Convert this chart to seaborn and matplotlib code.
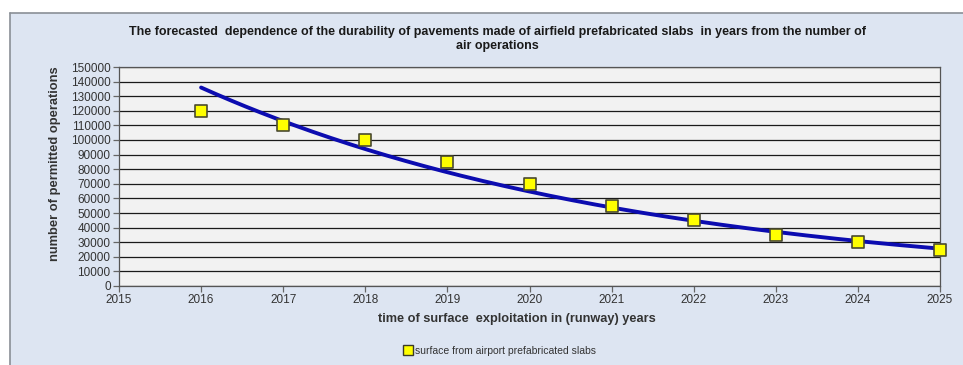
import numpy as np
import pandas as pd
import matplotlib
matplotlib.use("Agg")
import matplotlib.pyplot as plt
from matplotlib.patches import Rectangle
from matplotlib.lines import Line2D
import seaborn as sns

# Observed durability data
years = [2016, 2017, 2018, 2019, 2020, 2021, 2022, 2023, 2024, 2025]
operations = [120000, 110000, 100000, 85000, 70000, 55000, 45000, 35000, 30000, 25000]
series_name = "surface from airport prefabricated slabs"
x_ticks = list(range(2015, 2026))
y_ticks = list(range(0, 150001, 10000))

sns.set_theme(style="white")
plt.rcParams["font.family"] = ["Liberation Sans", "DejaVu Sans"]

df = pd.DataFrame({"year": years, "ops": operations})

# Exponential trend line fitted to the observations
coef = np.polyfit(df["year"] - years[0], np.log(df["ops"]), 1)
trend_x = np.linspace(years[0], years[-1], 200)
trend = pd.DataFrame({"year": trend_x,
                      "ops": np.exp(np.polyval(coef, trend_x - years[0]))})

W, H = 963, 365
fig = plt.figure(figsize=(W / 100, H / 100), dpi=100)
fig.patch.set_facecolor("white")

# Chart area panel
bg = "#dde5f2"
fig.patches.append(Rectangle((10 / W, 0), 1, (H - 13) / H, transform=fig.transFigure,
                             facecolor=bg, edgecolor="none", zorder=-2))
fig.lines.append(Line2D([10 / W, 1], [(H - 13) / H] * 2, transform=fig.transFigure,
                        color="#8a8f96", lw=1.2, zorder=-1))
fig.lines.append(Line2D([10 / W] * 2, [0, (H - 13) / H], transform=fig.transFigure,
                        color="#8a8f96", lw=1.2, zorder=-1))

ax = fig.add_axes([119 / W, (H - 286) / H, (940 - 119) / W, (286 - 67) / H])
ax.set_zorder(1)
ax.set_facecolor("#f2f2f2")

sns.lineplot(data=trend, x="year", y="ops", ax=ax, color="#0c0cb0", lw=2.8,
             zorder=3, legend=False)
sns.scatterplot(data=df, x="year", y="ops", ax=ax, marker="s", s=72,
                color="#ffff00", edgecolor="#4a4a30", linewidth=1.2, zorder=4,
                clip_on=False, label=series_name, legend=False)

ax.set_xlim(2015, 2025)
ax.set_ylim(0, 150000)
ax.set_xticks(x_ticks)
ax.set_yticks(y_ticks)
ax.set_xticklabels([str(t) for t in x_ticks])
ax.set_yticklabels([str(t) for t in y_ticks])
ax.yaxis.grid(True, color="#1a1a1a", lw=0.9)
ax.set_axisbelow(True)
ax.tick_params(axis="both", labelsize=8.5, labelcolor="#333333", length=4,
               width=0.9, color="#666666", direction="out", pad=2,
               bottom=True, left=True)
for s in ax.spines.values():
    s.set_color("#555555")
    s.set_linewidth(0.9)

ax.set_xlabel("time of surface  exploitation in (runway) years", fontsize=9.2,
              fontweight="bold", color="#333333")
ax.set_ylabel("number of permitted operations", fontsize=9.3, fontweight="bold",
              color="#333333")
ax.xaxis.set_label_coords(0.485, -0.122)
ax.yaxis.set_label_coords(-0.071, 0.56)

fig.text(497 / W, 1 - 39 / H,
         "The forecasted  dependence of the durability of pavements made of airfield prefabricated slabs  in years from the number of\nair operations",
         ha="center", va="center", fontsize=9, fontweight="bold", color="#1a1a1a",
         family=["Liberation Sans Narrow", "Liberation Sans", "DejaVu Sans"],
         linespacing=1.3)

# Legend below the axis title
handle = Line2D([], [], marker="s", ls="none", markersize=7,
                markerfacecolor="#ffff00", markeredgecolor="#3a3a2a",
                markeredgewidth=1.0)
fig.legend([handle], [series_name], loc="center", bbox_to_anchor=(500 / W, 1 - 351 / H),
           frameon=False, fontsize=7.5, handlelength=0.8, handletextpad=0.2,
           labelcolor="#333333")

fig.savefig("out.png", dpi=100)
